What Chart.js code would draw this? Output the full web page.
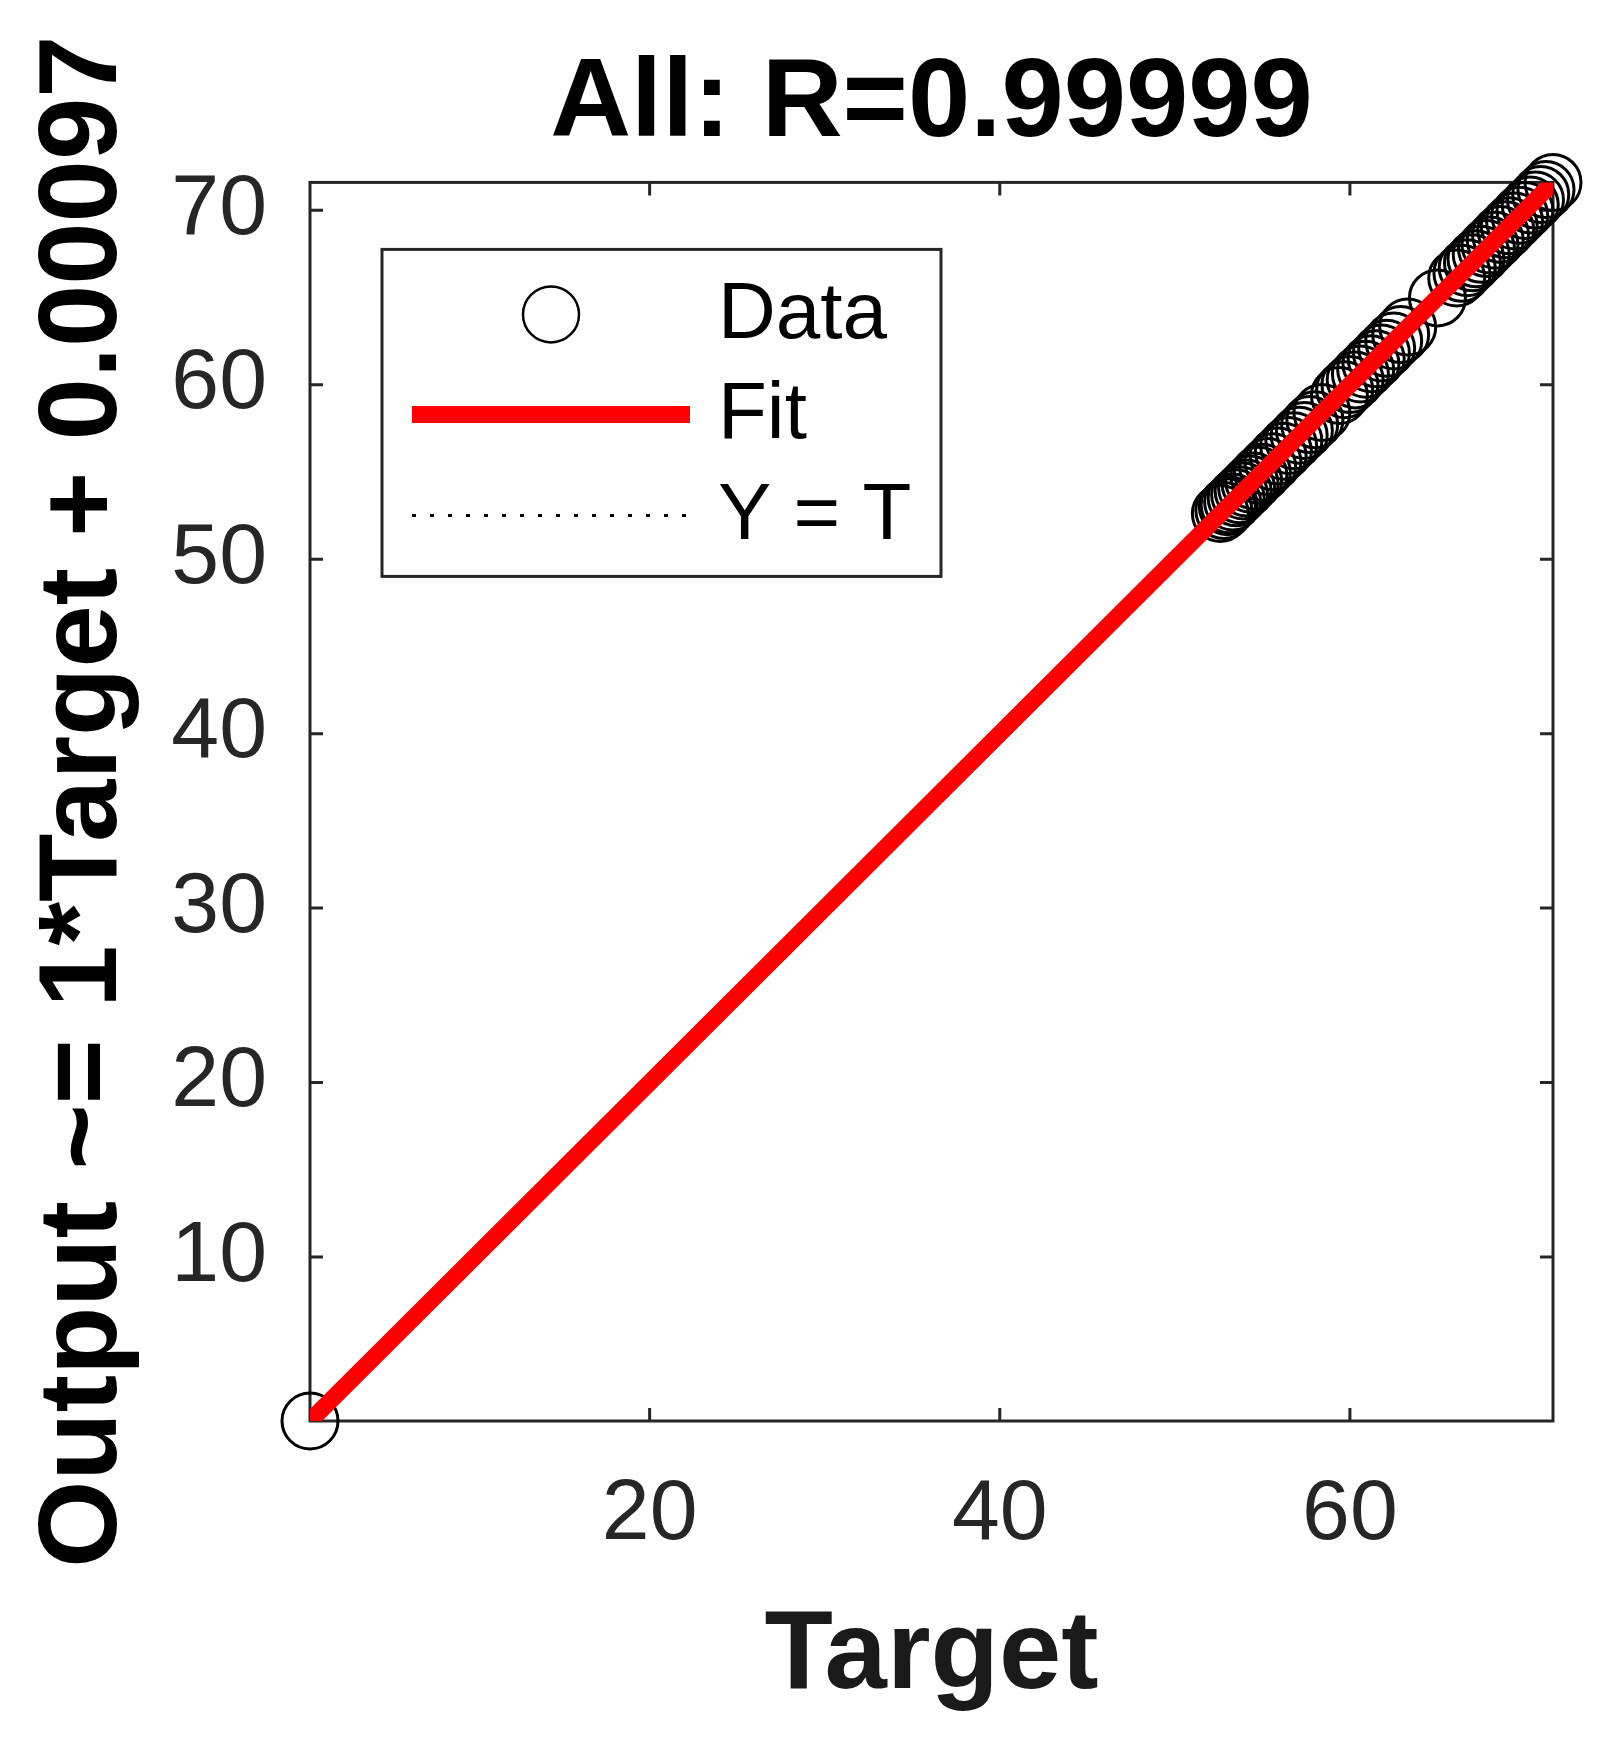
<!DOCTYPE html>
<html>
<head>
<meta charset="utf-8">
<script src="https://cdn.jsdelivr.net/npm/chart.js@4.4.1/dist/chart.umd.min.js"></script>
<style>
  html, body { margin: 0; padding: 0; background: #fff; }
  #wrap { width: 1612px; height: 1746px; }
</style>
</head>
<body>
<div id="wrap"><canvas id="regChart" width="1612" height="1746"></canvas></div>
<script>
// Data (targets vs network outputs)
const targets = [0.6,
    52.6, 52.8, 53.0, 53.1, 53.3, 53.5, 53.7, 53.9, 54.1, 54.3, 54.5, 54.8,
    55.0, 55.3, 55.6, 55.9, 56.2, 56.5, 56.8, 57.1, 57.4, 57.7, 58.0, 58.4,
    59.4, 59.7, 60.0, 60.3, 60.6, 60.9, 61.2, 61.5, 61.8, 62.1, 62.5, 62.9, 63.3,
    65.0,
    66.1, 66.4, 66.7, 67.0, 67.2, 67.5, 67.8, 68.0, 68.3, 68.6, 68.9, 69.1,
    69.4, 69.7, 70.0, 70.3, 70.6, 70.9, 71.2, 71.6];
const outputs = [0.6,
    52.62, 52.79, 53.01, 53.12, 53.28, 53.52, 53.69, 53.91, 54.08, 54.31, 54.49, 54.82,
    54.98, 55.31, 55.58, 55.92, 56.19, 56.52, 56.79, 57.11, 57.38, 57.72, 57.99, 58.41,
    59.39, 59.72, 60.01, 60.28, 60.62, 60.89, 61.21, 61.49, 61.82, 62.09, 62.51, 62.88, 63.31,
    64.98,
    66.12, 66.39, 66.71, 66.99, 67.22, 67.48, 67.81, 68.01, 68.29, 68.62, 68.88, 69.11,
    69.39, 69.71, 69.99, 70.31, 70.59, 70.91, 71.19, 71.6];

const axisMin = 0.6;
const axisMax = 71.6;
const xTicks = [20, 40, 60];
const yTicks = [10, 20, 30, 40, 50, 60, 70];
const fitSlope = 1;
const fitOffset = 0.00097;
const rValue = '0.99999';
const seriesLabels = ['Data', 'Fit', 'Y = T'];

const axisColor = '#262626';
const fontFamily = '"Liberation Sans", Arial, Helvetica, sans-serif';

const points = targets.map((t, i) => ({ x: t, y: outputs[i] }));
const fitLine = [axisMin, axisMax].map(v => ({ x: v, y: fitSlope * v + fitOffset }));
const identityLine = [axisMin, axisMax].map(v => ({ x: v, y: v }));

// box, inward ticks on all four sides (matlab style)
const frame = {
    id: 'frame',
    beforeDatasetsDraw(chart) {
        const { ctx, chartArea: a, scales } = chart;
        const len = 13;
        ctx.save();
        ctx.strokeStyle = axisColor;
        ctx.lineWidth = 3;
        ctx.strokeRect(a.left, a.top, a.right - a.left, a.bottom - a.top);
        ctx.beginPath();
        xTicks.forEach(v => {
            const px = scales.x.getPixelForValue(v);
            ctx.moveTo(px, a.bottom); ctx.lineTo(px, a.bottom - len);
            ctx.moveTo(px, a.top); ctx.lineTo(px, a.top + len);
        });
        yTicks.forEach(v => {
            const py = scales.y.getPixelForValue(v);
            ctx.moveTo(a.left, py); ctx.lineTo(a.left + len, py);
            ctx.moveTo(a.right, py); ctx.lineTo(a.right - len, py);
        });
        ctx.stroke();
        ctx.restore();
    },
    afterDraw(chart) {
        const { ctx, chartArea: a } = chart;
        const bx = a.left + 72, by = a.top + 67, bw = 559, bh = 327;
        ctx.save();
        ctx.fillStyle = '#fff';
        ctx.fillRect(bx, by, bw, bh);
        ctx.strokeStyle = axisColor;
        ctx.lineWidth = 3;
        ctx.strokeRect(bx, by, bw, bh);
        const rows = [65, 165, 266];
        ctx.font = '80px ' + fontFamily;
        ctx.textBaseline = 'middle';
        ctx.textAlign = 'left';
        chart.data.datasets.forEach((ds, i) => {
            const y = by + rows[i];
            ctx.save();
            ctx.strokeStyle = ds.borderColor;
            ctx.lineWidth = ds.showLine ? ds.borderWidth : 2.5;
            if (ds.showLine) {
                ctx.setLineDash(ds.borderDash || []);
                ctx.beginPath();
                ctx.moveTo(bx + 30, y);
                ctx.lineTo(bx + 308, y);
                ctx.stroke();
            } else {
                ctx.beginPath();
                ctx.arc(bx + 169, y, ds.pointRadius, 0, Math.PI * 2);
                ctx.stroke();
            }
            ctx.restore();
            ctx.fillStyle = '#000';
            ctx.fillText(ds.label, bx + 336, y + 2);
        });
        ctx.restore();
    }
};

const tickFont = { family: fontFamily, size: 86 };
const labelFont = { family: fontFamily, size: 112, weight: 'bold' };

new Chart(document.getElementById('regChart'), {
    type: 'scatter',
    data: {
        datasets: [
            {
                label: seriesLabels[0],
                data: points,
                showLine: false,
                pointRadius: 28,
                pointHoverRadius: 28,
                pointBorderWidth: 3,
                borderWidth: 3,
                borderColor: '#000',
                pointBorderColor: '#000',
                backgroundColor: 'rgba(0,0,0,0)',
                clip: false,
                order: 2
            },
            {
                label: seriesLabels[1],
                data: fitLine,
                showLine: true,
                pointRadius: 0,
                borderColor: '#ff0000',
                borderWidth: 17,
                borderCapStyle: 'butt',
                order: 1
            },
            {
                label: seriesLabels[2],
                data: identityLine,
                showLine: true,
                pointRadius: 0,
                borderColor: '#000',
                borderWidth: 3,
                borderDash: [4, 14],
                order: 3
            }
        ]
    },
    options: {
        responsive: false,
        animation: false,
        events: [],
        layout: { padding: { left: 0, right: 59, top: 0, bottom: 0 } },
        plugins: {
            legend: { display: false },
            tooltip: { enabled: false },
            title: {
                display: true,
                text: 'All: R=' + rValue,
                fullSize: false,
                color: '#000',
                font: labelFont,
                padding: { top: 38, bottom: 10 }
            }
        },
        scales: {
            x: {
                type: 'linear',
                position: 'bottom',
                min: axisMin,
                max: axisMax,
                grid: { display: false, drawTicks: false },
                border: { display: false },
                ticks: { font: tickFont, color: axisColor, padding: 43, maxRotation: 0, autoSkip: false },
                title: { display: true, text: 'Target', color: '#1a1a1a', font: labelFont, padding: { top: 0, bottom: 22 } },
                afterBuildTicks: s => { s.ticks = xTicks.map(v => ({ value: v })); },
                afterFit: s => { s.height = 325; }
            },
            y: {
                type: 'linear',
                position: 'left',
                min: axisMin,
                max: axisMax,
                grid: { display: false, drawTicks: false },
                border: { display: false },
                ticks: { font: tickFont, color: axisColor, padding: 43, autoSkip: false },
                title: { display: true, text: 'Output ~= ' + fitSlope + '*Target + ' + fitOffset, color: '#000', font: labelFont, padding: { top: 18, bottom: 0 } },
                afterBuildTicks: s => { s.ticks = yTicks.map(v => ({ value: v })); },
                afterFit: s => { s.width = 310; }
            }
        }
    },
    plugins: [frame]
});
</script>
</body>
</html>
